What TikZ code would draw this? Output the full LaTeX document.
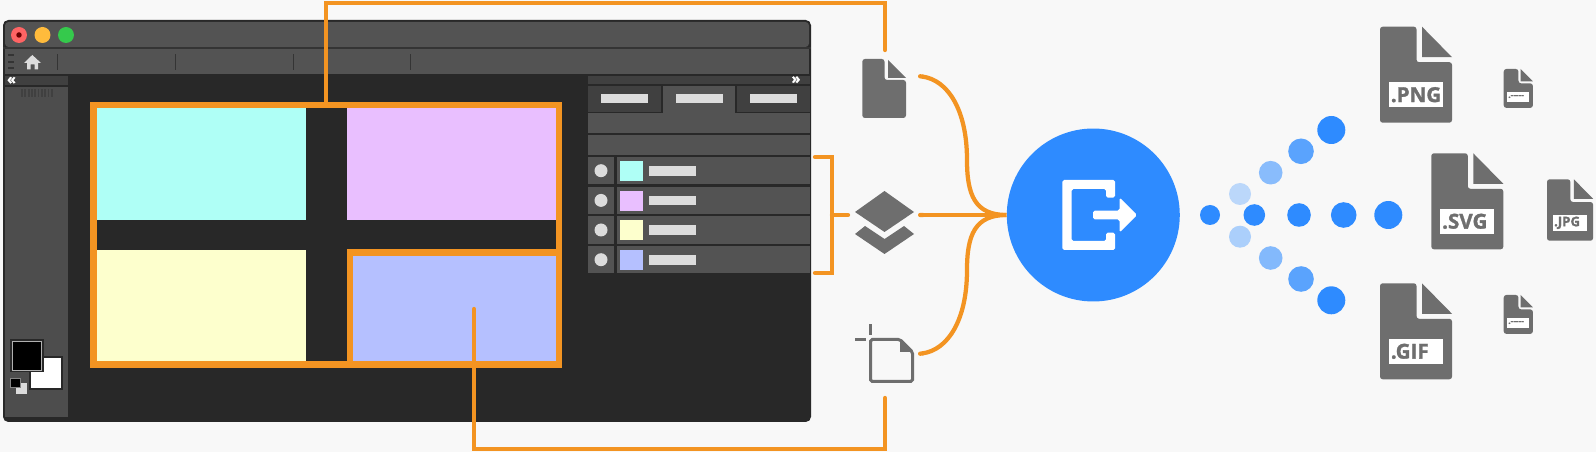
\documentclass[tikz,border=0pt]{standalone}
\usepackage{fontspec}
\setmainfont[BoldFeatures={FakeBold=1.5}]{Open Sans}
\usetikzlibrary{arrows.meta, positioning, calc}
\definecolor{xpaper}{HTML}{F8F8F8}
\definecolor{xorange}{HTML}{F39422}
\definecolor{xblue}{HTML}{2E8BFF}
\definecolor{xgray}{HTML}{6E6E6E}
\definecolor{xdark}{HTML}{282828}
\definecolor{xedge}{HTML}{343434}
\definecolor{xchrome}{HTML}{535353}
\definecolor{xpanel}{HTML}{4D4D4D}
\definecolor{xhead}{HTML}{404040}
\definecolor{xmark}{HTML}{DCDCDC}
\definecolor{xcyan}{HTML}{AFFFF6}
\definecolor{xpurple}{HTML}{E9BFFF}
\definecolor{xyellow}{HTML}{FDFFCD}
\definecolor{xperi}{HTML}{B5C0FF}
\definecolor{xred}{HTML}{FF6464}
\definecolor{xamber}{HTML}{FFBB3C}
\definecolor{xgreen}{HTML}{35C94C}
\definecolor{xmaroon}{HTML}{6A0000}
\tikzset{
  x=0.02cm, y=-0.02cm,
  font=\bfseries,
  wire/.style={draw=xorange, line width=0.085cm, line cap=round},
  curvewire/.style={draw=xorange, line width=0.085cm, {Round Cap[]}-},
  artframe/.style={draw=xorange, line width=0.13cm, miter limit=10},
  spot/.style={circle, fill=#1, inner sep=0pt},
  chip/.style={fill=xmark},
  icon/.style={fill=xgray},
  iconround/.style={fill=xgray, rounded corners=1.5pt},
  chev/.style={text=white, inner sep=0pt, font=\bfseries\fontsize{8}{8}\selectfont}
}
\begin{document}
\begin{tikzpicture}
  \fill[xpaper] (0,0) rectangle (1596,452);

  % window
  \fill[xdark, rounded corners=3pt] (3,20) rectangle (811,422);
  \fill[xchrome, rounded corners=2pt] (5,22) rectangle (809,47);
  \fill[xedge] (3,47) rectangle (811,49.5);
  \fill[xchrome] (5,49.5) rectangle (809,74);
  \node[spot=xred, minimum size=0.32cm] (closebtn) at (19,35) {};
  \node[spot=xmaroon, minimum size=0.11cm] (closedot) at (19,35) {};
  \node[spot=xamber, minimum size=0.32cm] (minbtn) at (42.5,35) {};
  \node[spot=xgreen, minimum size=0.32cm] (maxbtn) at (66,35) {};
  \foreach \y in {55.5,62,68}
    \fill[xedge] (7.5,\y-1) rectangle (13.7,\y+1);
  \fill[xmark] (24,63) -- (32.3,55) -- (41,63) -- (38,63) -- (38,69.3) -- (34.5,69.3)
    -- (34.5,64.5) -- (30.5,64.5) -- (30.5,69.3) -- (27,69.3) -- (27,63) -- cycle;
  \foreach \x in {57.3,175.3,293,410.5}
    \fill[xedge] (\x-0.5,54) rectangle (\x+0.5,70);

  % left tool strip
  \fill[xhead] (5,76.5) rectangle (68,85.5);
  \fill[xpanel] (5,87.5) rectangle (68,417);
  \node[chev] (leftchev) at (11.5,80.5) {«};
  \foreach \x in {22,25.3,...,52}
    \fill[xhead] (\x-0.9,89) rectangle (\x+0.9,97.5);
  \fill[xdark] (29,356) rectangle (63,390);
  \fill[white] (31,358) rectangle (61,388);
  \fill[xdark] (10.3,338.7) rectangle (44,372.5);
  \fill[xmark!80!black] (12.3,340.7) rectangle (42.3,370.7);
  \fill[black] (13.3,341.7) rectangle (41.3,369.7);
  \fill[xmark] (16,383.3) rectangle (26.7,394);
  \fill[xmark!60!black] (10.3,378.3) rectangle (21,388.5);
  \fill[black] (11.3,379.3) rectangle (20,387.5);

  % artboards
  \fill[xcyan] (97,108) rectangle (305.7,220);
  \fill[xpurple] (347,108) rectangle (556,220);
  \fill[xyellow] (97,250) rectangle (305.7,361);
  \fill[xperi] (350,253) rectangle (559,364);
  \draw[artframe] (93.5,105) rectangle (558.8,364.4);
  \draw[artframe] (350.2,252.5) rectangle (558.8,364.4);

  % right panel
  \fill[xhead] (588,76) rectangle (810,84);
  \node[chev] (rightchev) at (796,80) {»};
  \foreach \a/\b/\c in {588/660.7/xhead,663/735/xchrome,737/810/xhead}
    \fill[\c] (\a,86) rectangle (\b,112);
  \fill[xchrome] (663,112) rectangle (735,114);
  \foreach \a/\b in {601/648,675.5/722.5,750/796.7}
    \fill[chip] (\a,94) rectangle (\b,103.5);
  \fill[xchrome] (588,113) rectangle (810,133);
  \fill[xchrome] (588,135) rectangle (810,155);
  \foreach \n/\y/\c in {a/157/xcyan,b/186.7/xpurple,c/216.3/xyellow,d/246/xperi} {
    \fill[xchrome] (588,\y) rectangle (614,\y+27.5);
    \fill[xchrome] (616.7,\y) rectangle (810,\y+27.5);
    \node[spot=xmark, minimum size=0.26cm] (eye\n) at (601,\y+13.7) {};
    \fill[\c] (619.7,\y+4) rectangle (643,\y+24);
    \fill[chip] (648.5,\y+9) rectangle (696,\y+18.7);
  }

  % connectors
  \coordinate (artup) at (326,104);
  \coordinate (uptop) at (326,3);
  \coordinate (docin) at (885,50);
  \coordinate (artdown) at (474,309);
  \coordinate (downend) at (474,449);
  \coordinate (cropin) at (885,398);
  \coordinate (brtop) at (815,157);
  \coordinate (brbot) at (815,273);
  \coordinate (brmid) at (832,215);
  \coordinate (brout) at (848,215);
  \coordinate (docout) at (918,76);
  \coordinate (layout) at (918,215);
  \coordinate (cropout) at (918,354);
  \node[spot=xblue, minimum size=3.46cm] (exporter) at (1093.3,215) {};
  \draw[wire] (artup) |- (docin |- uptop) -- (docin);
  \draw[wire] (artdown) |- (cropin |- downend) -- (cropin);
  \draw[wire] (brtop) -| (brmid) |- (brbot);
  \draw[wire] (brmid) -- (brout);
  \draw[curvewire] (docout) .. controls (948,80) and (967,110) .. (967,160)
    .. controls (967,195) and (975,215) .. (exporter.west);
  \draw[curvewire] (layout) -- (exporter.west);
  \draw[curvewire] (cropout) .. controls (948,350) and (967,320) .. (967,270)
    .. controls (967,235) and (975,215) .. (exporter.west);

  % source icons
  \fill[iconround] (862.3,59) -- (884.5,59) -- (884.5,80) -- (906,80) -- (906,118) -- (862.3,118) -- cycle;
  \fill[icon] (888,60) -- (906,78) -- (888,78) -- cycle;
  \fill[icon] (855,212) -- (884.5,191) -- (914,212) -- (884.5,232) -- cycle;
  \fill[icon] (855,234) -- (865,226) -- (884.5,239) -- (904,226) -- (914,234) -- (884.5,254) -- cycle;
  \draw[xgray, line width=0.06cm, rounded corners=1pt] (870.5,339.5) -- (900,339.5) -- (912.5,352) -- (912.5,381.5) -- (870.5,381.5) -- cycle;
  \fill[icon] (900,339) -- (913,352) -- (900,352) -- cycle;
  \fill[icon] (855,338.3) rectangle (865.7,341.3);
  \fill[icon] (869,324) rectangle (872,335);

  % export mark
  \fill[white, rounded corners=1pt] (1062.3,180) -- (1115,180) -- (1115,197.7) -- (1106,197.7) -- (1106,189)
    -- (1071.5,189) -- (1071.5,241) -- (1106,241) -- (1106,232.7) -- (1115,232.7) -- (1115,250) -- (1062.3,250) -- cycle;
  \fill[white, rounded corners=1pt] (1093,210.7) -- (1119.5,210.7) -- (1119.5,197.5) -- (1137,215)
    -- (1119.5,232.5) -- (1119.5,219.3) -- (1093,219.3) -- cycle;

  % dots
  \foreach \n/\x/\y/\r/\c in {
    m1/1210/215/10/xblue, m2/1254.3/215/10.8/xblue, m3/1299/215/11.8/xblue,
    m4/1343.7/215/12.8/xblue, m5/1388.3/215/14/xblue,
    u1/1240/194/11/xblue!30!xpaper, u2/1270.7/172.7/11.8/xblue!55!xpaper,
    u3/1301/151.3/12.8/xblue!78!xpaper, u4/1331.3/130/14/xblue,
    d1/1240/236.7/11/xblue!38!xpaper, d2/1270.7/258/11.8/xblue!58!xpaper,
    d3/1301/279/12.8/xblue!78!xpaper, d4/1331.3/300.3/14/xblue}
    \node[spot=\c, minimum size=2*\r*0.02cm] (dot\n) at (\x,\y) {};

  % output files
  \foreach \n/\x/\y/\s/\f/\t in {
    png/1380/26.7/1/11.7/.PNG, svg/1431.3/153.3/1/11.7/.SVG, gif/1380/283.3/1/11.7/.GIF,
    jpg/1547/179.3/0.64/7.5/.JPG, smalla/1503.7/69/0.405/4.7/.{-}{-}{-}{-}{-},
    smallb/1503.7/295/0.405/4.7/.{-}{-}{-}{-}{-}} {
    \begin{scope}[shift={(\x,\y)}, scale=\s]
      \fill[iconround] (0,0) -- (36.5,0) -- (36.5,35.5) -- (72,35.5) -- (72,96) -- (0,96) -- cycle;
      \fill[icon] (42,0) -- (72,30.5) -- (42,30.5) -- cycle;
      \fill[white] (8.7,55.7) rectangle (63,80.7);
      \node[anchor=west, inner sep=0pt, text=xgray, font=\bfseries\fontsize{\f}{\f}\selectfont] (file\n) at (10.5,68) {\t};
    \end{scope}
  }
\end{tikzpicture}
\end{document}
